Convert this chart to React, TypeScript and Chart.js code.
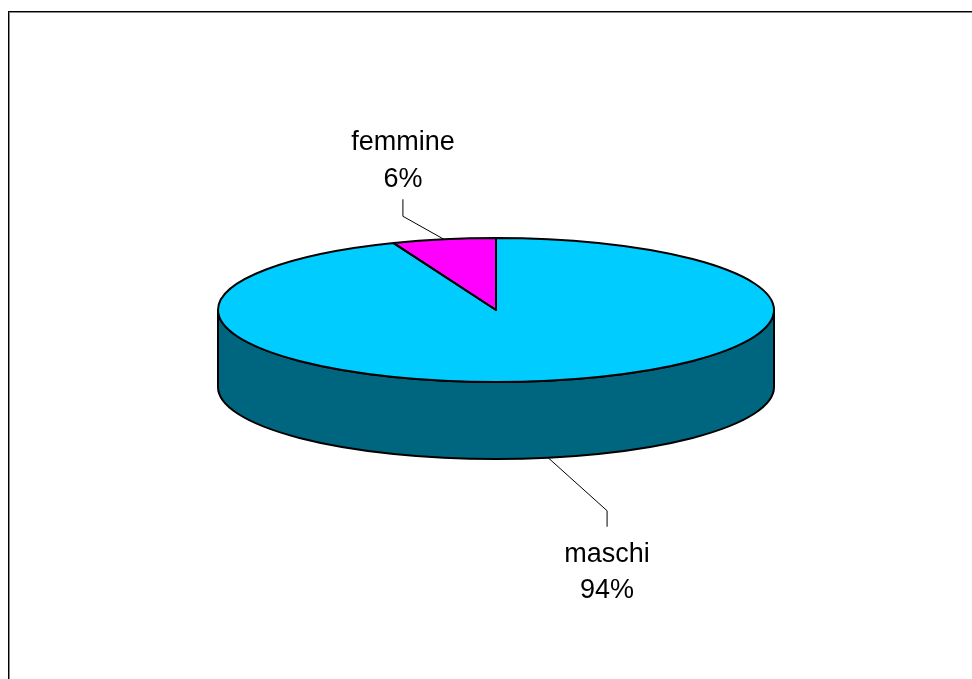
import React, { useEffect, useRef } from "react";
import { Chart, registerables } from "chart.js";

Chart.register(...registerables);

// ---- data ----
const categories = ["maschi", "femmine"];
const values = [94, 6];
const topColors = ["#00CCFF", "#FF00FF"];
const sideColors = ["#006680", "#800080"];

// ---- layout (pixels) ----
const PIE = { cx: 496, cy: 310, rx: 278, ry: 72, depth: 77 };
const LEADERS = [
  { dx: 59, dy: 53, endDy: 16 }, // maschi (below)
  { dx: -41, dy: -23, endDy: -17 }, // femmine (above)
];
const FONT = "27px 'Liberation Sans', Arial, sans-serif";

const pie3dPlugin = {
  id: "pie3d",
  beforeDatasetsDraw(chart: any) {
    const ctx = chart.ctx as CanvasRenderingContext2D;
    const arcs = chart.getDatasetMeta(0).data;
    const { cx, cy, rx, ry, depth } = PIE;
    // side walls (front half only)
    ctx.save();
    ctx.lineWidth = 2;
    ctx.strokeStyle = "#000";
    ctx.lineJoin = "round";
    arcs.forEach((arc: any, i: number) => {
      const p = arc.getProps(["startAngle", "endAngle"], true);
      const s = Math.max(p.startAngle, 0);
      const e = Math.min(p.endAngle, Math.PI);
      if (e <= s) return;
      ctx.beginPath();
      ctx.ellipse(cx, cy, rx, ry, 0, s, e);
      ctx.ellipse(cx, cy + depth, rx, ry, 0, e, s, true);
      ctx.closePath();
      ctx.fillStyle = sideColors[i];
      ctx.fill();
      ctx.stroke();
    });
    ctx.restore();
    // squash the library's pie into the top ellipse
    const a0 = arcs[0].getProps(["x", "y", "outerRadius"], true);
    ctx.save();
    ctx.translate(cx, cy);
    ctx.scale(rx / a0.outerRadius, ry / a0.outerRadius);
    ctx.translate(-a0.x, -a0.y);
  },
  afterDatasetsDraw(chart: any) {
    const ctx = chart.ctx as CanvasRenderingContext2D;
    ctx.restore();
    const arcs = chart.getDatasetMeta(0).data;
    const { cx, cy, rx, ry } = PIE;
    ctx.save();
    ctx.lineWidth = 2;
    ctx.strokeStyle = "#000";
    ctx.lineJoin = "round";
    arcs.forEach((arc: any) => {
      const p = arc.getProps(["startAngle", "endAngle"], true);
      ctx.beginPath();
      ctx.moveTo(cx, cy);
      ctx.ellipse(cx, cy, rx, ry, 0, p.startAngle, p.endAngle);
      ctx.closePath();
      ctx.stroke();
    });
    ctx.restore();
  },
  afterDraw(chart: any) {
    const ctx = chart.ctx as CanvasRenderingContext2D;
    const arcs = chart.getDatasetMeta(0).data;
    const { cx, cy, rx, ry, depth } = PIE;
    const total = values.reduce((a, b) => a + b, 0);
    ctx.save();
    arcs.forEach((arc: any, i: number) => {
      const p = arc.getProps(["startAngle", "endAngle"], true);
      const mid = (p.startAngle + p.endAngle) / 2;
      const front = Math.sin(mid) > 0;
      const ax = cx + rx * Math.cos(mid);
      const ay = cy + (front ? depth : 0) + ry * Math.sin(mid);
      const L = LEADERS[i];
      const ex = ax + L.dx;
      const ey = ay + L.dy;
      const fy = ey + L.endDy;
      ctx.beginPath();
      ctx.moveTo(ax, ay);
      ctx.lineTo(ex, ey);
      ctx.lineTo(ex, fy);
      ctx.strokeStyle = "#000";
      ctx.lineWidth = 1;
      ctx.stroke();
      ctx.font = FONT;
      ctx.fillStyle = "#000";
      ctx.textAlign = "center";
      ctx.textBaseline = "alphabetic";
      const pct = Math.round((values[i] / total) * 100) + "%";
      if (front) {
        ctx.fillText(categories[i], ex, fy + 35);
        ctx.fillText(pct, ex, fy + 71);
      } else {
        ctx.fillText(categories[i], ex, fy - 49);
        ctx.fillText(pct, ex, fy - 12);
      }
    });
    // outer frame
    ctx.fillStyle = "#000";
    ctx.fillRect(8, 11, 1, 700);
    ctx.fillRect(8, 11, 1000, 1);
    ctx.fillStyle = "#888";
    ctx.fillRect(9, 12, 1, 700);
    ctx.fillRect(9, 12, 1000, 1);
    ctx.restore();
  },
};

export default function App() {
  const ref = useRef<HTMLCanvasElement | null>(null);
  useEffect(() => {
    if (!ref.current) return;
    const chart = new Chart(ref.current, {
      type: "pie",
      data: {
        labels: categories,
        datasets: [
          {
            data: values,
            backgroundColor: topColors,
            borderWidth: 0,
            clip: false as any,
          },
        ],
      },
      options: {
        responsive: false,
        animation: false,
        events: [],
        layout: { padding: 0 },
        plugins: {
          legend: { display: false },
          tooltip: { enabled: false },
        },
      },
      plugins: [pie3dPlugin as any],
    });
    return () => chart.destroy();
  }, []);
  return (
    <div style={{ position: "fixed", left: 0, top: 0, width: 972, height: 679, background: "#fff" }}>
      <canvas ref={ref} width={972} height={679} style={{ display: "block" }} />
    </div>
  );
}
